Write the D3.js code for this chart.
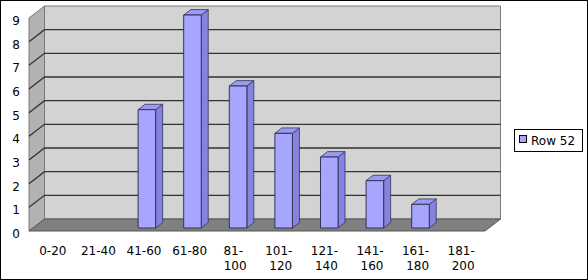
<!DOCTYPE html>
<html>
<head>
<meta charset="utf-8">
<script src="https://cdn.jsdelivr.net/npm/d3@7"></script>
<style>
  body { margin: 0; background: #fff; }
  text { font-family: "DejaVu Sans", sans-serif; font-size: 12px; fill: #000; }
</style>
</head>
<body>
<div id="chart"></div>
<script>
// data
const categories = ["0-20", "21-40", "41-60", "61-80", "81-100", "101-120", "121-140", "141-160", "161-180", "181-200"];
const values = [0, 0, 5, 9, 6, 4, 3, 2, 1, 0];
const yTicks = [0, 1, 2, 3, 4, 5, 6, 7, 8, 9];
const seriesName = "Row 52";

const width = 588, height = 280;
const depthX = 15.5, depthY = -12; // offset of the back wall from the front plane

const svg = d3.select("#chart").append("svg")
  .attr("width", width)
  .attr("height", height);

svg.append("rect")
  .attr("x", 0.5).attr("y", 0.5)
  .attr("width", width - 1).attr("height", height - 1)
  .attr("fill", "#fff").attr("stroke", "#000");

const x = d3.scaleBand().domain(categories).range([29, 485]);
const y = d3.scaleLinear().domain([0, 9]).range([231, 18]);

// point at value v, horizontal px, depth fraction z (0 front, 1 back)
const pt = (px, v, z) => [px + depthX * z, y(v) + depthY * z];

// back wall
svg.append("polygon")
  .attr("points", [pt(29, 0, 1), pt(485, 0, 1), pt(485, 9, 1), pt(29, 9, 1)].join(" "))
  .attr("fill", "#d3d3d3").attr("stroke", "#7a7a7a");

// side wall
svg.append("polygon")
  .attr("points", [pt(29, 0, 0), pt(29, 0, 1), pt(29, 9, 1), pt(29, 9, 0)].join(" "))
  .attr("fill", "#b2b2b2").attr("stroke", "#7a7a7a");

// floor
svg.append("polygon")
  .attr("points", [pt(29, 0, 0), pt(485, 0, 0), pt(485, 0, 1), pt(29, 0, 1)].join(" "))
  .attr("fill", "#808080").attr("stroke", "#555");

// gridlines on back wall and side wall
const grid = svg.append("g");
yTicks.filter(t => t > 0 && t < 9).forEach(t => {
  const a = pt(29, t, 0), b = pt(29, t, 1), c = pt(485, t, 1);
  grid.append("polyline")
    .attr("points", [a, b, c].join(" "))
    .attr("fill", "none").attr("stroke", "#333").attr("stroke-width", 1.3);
});

// y axis labels
svg.append("g").selectAll("text")
  .data(yTicks).join("text")
  .attr("x", 20)
  .attr("y", d => y(d) + 7)
  .attr("text-anchor", "end")
  .text(d => d);

// bars
const zFront = 0.25, zBack = 0.7;
const barW = x.bandwidth() * 0.385;
const bars = svg.append("g");
categories.forEach((c, i) => {
  const v = values[i];
  if (v <= 0) return;
  const x0 = x(c) + (x.bandwidth() - barW) / 2;
  const x1 = x0 + barW;
  const stroke = "#33335a";
  // side face
  bars.append("polygon")
    .attr("points", [pt(x1, 0, zFront), pt(x1, 0, zBack), pt(x1, v, zBack), pt(x1, v, zFront)].join(" "))
    .attr("fill", "#8484e0").attr("stroke", stroke).attr("stroke-width", 0.8);
  // top face
  bars.append("polygon")
    .attr("points", [pt(x0, v, zFront), pt(x1, v, zFront), pt(x1, v, zBack), pt(x0, v, zBack)].join(" "))
    .attr("fill", "#9a9af2").attr("stroke", stroke).attr("stroke-width", 0.8);
  // front face
  bars.append("polygon")
    .attr("points", [pt(x0, 0, zFront), pt(x1, 0, zFront), pt(x1, v, zFront), pt(x0, v, zFront)].join(" "))
    .attr("fill", "#a6a6ff").attr("stroke", stroke).attr("stroke-width", 1);
});

// x axis labels (long ones wrap after the hyphen)
const xl = svg.append("g").selectAll("text")
  .data(categories).join("text")
  .attr("x", d => x(d) + x.bandwidth() / 2 + 1)
  .attr("y", 255)
  .attr("text-anchor", "middle");
xl.each(function(d) {
  const t = d3.select(this);
  if (d.length > 5) {
    const k = d.indexOf("-") + 1;
    const lx = +t.attr("x");
    t.append("tspan").attr("x", lx - 2).text(d.slice(0, k));
    t.append("tspan").attr("x", lx).attr("dy", 15).text(d.slice(k));
  } else {
    t.text(d);
  }
});

// legend
const lg = svg.append("g");
lg.append("rect")
  .attr("x", 514.5).attr("y", 129.5).attr("width", 68).attr("height", 22)
  .attr("fill", "#fff").attr("stroke", "#000");
lg.append("rect")
  .attr("x", 519.5).attr("y", 135.5).attr("width", 7).attr("height", 7)
  .attr("fill", "#a6a6ff").attr("stroke", "#000");
lg.append("text")
  .attr("x", 531).attr("y", 145)
  .text(seriesName);
</script>
</body>
</html>
